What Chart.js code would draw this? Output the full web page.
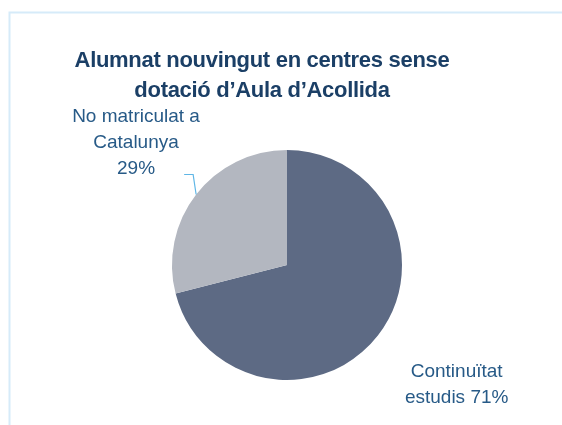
<!DOCTYPE html>
<html>
<head>
<meta charset="utf-8">
<script src="https://cdn.jsdelivr.net/npm/chart.js@4/dist/chart.umd.min.js"></script>
<style>
  html, body { margin: 0; padding: 0; background: #fff; }
  #wrap { width: 562px; height: 425px; position: relative; }
</style>
</head>
<body>
<div id="wrap"><canvas id="pieChart" width="562" height="425"></canvas></div>
<script>
// Chart data
const titleLines = ['Alumnat nouvingut en centres sense', 'dotació d\u2019Aula d\u2019Acollida'];
const categories = [['Continuïtat', 'estudis 71%'], ['No matriculat a', 'Catalunya', '29%']];
const values = [71, 29];
const sliceColors = ['#5d6a84', '#b3b7c0'];

const FONT = '"Liberation Sans", Arial, sans-serif';

// labels outside the slices, anchored on each arc's mid angle
const labelStyle = [
    { k: 1.79, dx: 7, dy: -8, leader: false },
    { k: 1.70, dx: 3.5, dy: -3.5, leader: true }
];

const framePlugin = {
    id: 'frame',
    beforeDraw(chart) {
        const ctx = chart.ctx;
        ctx.save();
        ctx.strokeStyle = '#d6ebf9';
        ctx.lineWidth = 2;
        ctx.beginPath();
        ctx.moveTo(9.5, 425);
        ctx.lineTo(9.5, 12.5);
        ctx.lineTo(562, 12.5);
        ctx.stroke();

        // title
        ctx.fillStyle = '#1b3f66';
        ctx.font = 'bold 22px ' + FONT;
        ctx.textAlign = 'center';
        ctx.textBaseline = 'alphabetic';
        ctx.letterSpacing = '-0.3px';
        titleLines.forEach((t, i) => ctx.fillText(t, 262, 66.5 + i * 30));
        ctx.restore();
    },
    afterDatasetsDraw(chart) {
        const ctx = chart.ctx;
        const arcs = chart.getDatasetMeta(0).data;
        ctx.save();
        ctx.font = '19px ' + FONT;
        ctx.fillStyle = '#275a87';
        ctx.textAlign = 'center';
        ctx.textBaseline = 'alphabetic';
        arcs.forEach((arc, i) => {
            const p = arc.getProps(['x', 'y', 'startAngle', 'endAngle', 'outerRadius'], true);
            const mid = (p.startAngle + p.endAngle) / 2;
            const st = labelStyle[i];
            const cx = p.x + Math.cos(mid) * p.outerRadius * st.k + st.dx;
            const cy = p.y + Math.sin(mid) * p.outerRadius * st.k + st.dy;
            const lines = categories[i];
            const lh = 26;
            const first = cy - (lines.length - 1) / 2 * lh + 6.8;
            lines.forEach((t, j) => ctx.fillText(t, cx, first + j * lh));

            if (st.leader) {
                const ex = p.x + Math.cos(mid) * p.outerRadius;
                const ey = p.y + Math.sin(mid) * p.outerRadius;
                ctx.strokeStyle = '#5fb6e6';
                ctx.lineWidth = 1.2;
                ctx.beginPath();
                ctx.moveTo(ex, ey);
                ctx.lineTo(ex - 3, ey - 20);
                ctx.lineTo(ex - 12, ey - 20);
                ctx.stroke();
            }
        });
        ctx.restore();
    }
};

new Chart(document.getElementById('pieChart'), {
    type: 'pie',
    data: {
        labels: categories.map(c => c.join(' ')),
        datasets: [{
            data: values,
            backgroundColor: sliceColors,
            borderWidth: 0
        }]
    },
    options: {
        responsive: false,
        animation: false,
        events: [],
        layout: { padding: { left: 172, right: 160, top: 150, bottom: 45 } },
        plugins: {
            legend: { display: false },
            title: { display: false },
            tooltip: { enabled: false }
        }
    },
    plugins: [framePlugin]
});
</script>
</body>
</html>
